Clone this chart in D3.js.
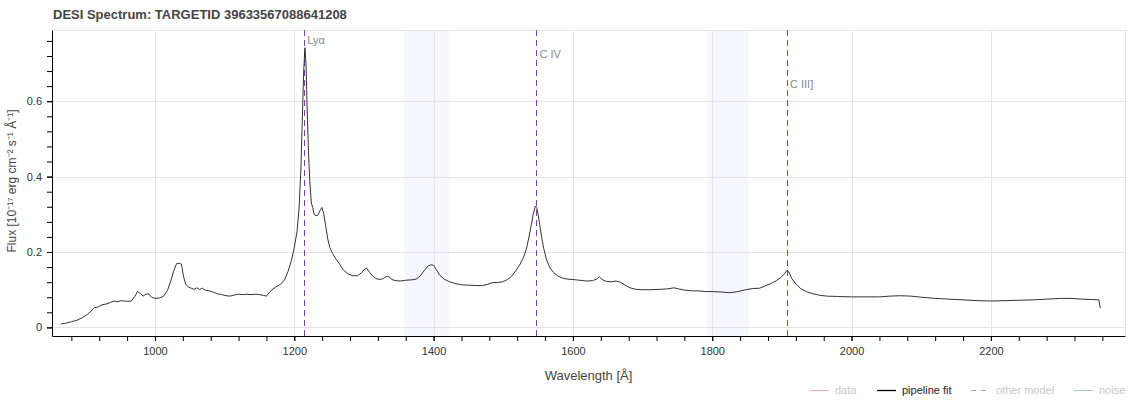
<!DOCTYPE html>
<html>
<head>
<meta charset="utf-8">
<script src="https://cdn.jsdelivr.net/npm/d3@7"></script>
<style>
  body { margin: 0; background: #fff; }
  svg { display: block; font-family: "Liberation Sans", Arial, sans-serif; }
</style>
</head>
<body>
<svg id="chart" width="1130" height="400"></svg>
<script>
// ---- Data ----
const wavelength = [865,872,880,888,895,902,908,913,918,924,930,936,941,946,951,956,961,966,971,975,979,983,987,991,995,1000,1006,1012,1018,1023,1027,1031,1035,1038,1041,1044,1048,1052,1056,1060,1064,1068,1072,1078,1084,1090,1096,1102,1108,1114,1120,1126,1132,1138,1144,1150,1156,1160,1164,1168,1174,1180,1186,1191,1196,1200,1204,1207,1209.5,1211.5,1213.5,1215.3,1216.8,1218.5,1220.5,1222.5,1224.5,1226.5,1228.5,1231,1234,1237,1239.5,1242,1245,1248,1251,1255,1260,1265,1270,1277,1284,1291,1297,1301,1304,1308,1312,1317,1322,1327,1332,1336,1340,1346,1352,1360,1368,1375,1381,1387,1392,1396,1400,1404,1409,1415,1423,1432,1440,1450,1460,1470,1477,1485,1492,1499,1506,1512,1518,1524,1529,1533,1537,1540,1543,1546,1548,1550,1552.5,1555,1558,1562,1567,1572,1578,1585,1592,1600,1610,1620,1628,1634,1638,1642,1648,1655,1662,1668,1675,1682,1690,1700,1712,1725,1735,1745,1752,1760,1770,1780,1790,1800,1812,1825,1837,1848,1858,1868,1876,1884,1892,1899,1904,1907,1910,1914,1920,1927,1935,1945,1955,1965,1980,2000,2020,2040,2055,2070,2085,2100,2120,2140,2160,2180,2200,2220,2240,2260,2280,2300,2315,2330,2345,2355,2357];
const fluxFit = [0.009,0.011,0.015,0.019,0.025,0.033,0.043,0.052,0.054,0.060,0.062,0.066,0.070,0.068,0.071,0.070,0.069,0.070,0.082,0.095,0.090,0.083,0.088,0.089,0.080,0.077,0.078,0.082,0.098,0.125,0.150,0.169,0.170,0.168,0.135,0.115,0.107,0.104,0.101,0.105,0.100,0.104,0.099,0.097,0.093,0.089,0.087,0.084,0.083,0.086,0.088,0.087,0.088,0.087,0.088,0.087,0.085,0.083,0.092,0.100,0.108,0.114,0.126,0.148,0.178,0.212,0.255,0.320,0.420,0.550,0.680,0.742,0.700,0.580,0.460,0.380,0.330,0.318,0.300,0.296,0.298,0.310,0.318,0.305,0.270,0.235,0.212,0.196,0.181,0.168,0.153,0.142,0.137,0.137,0.146,0.155,0.157,0.146,0.137,0.130,0.127,0.129,0.135,0.134,0.127,0.124,0.123,0.125,0.126,0.128,0.137,0.152,0.163,0.166,0.165,0.153,0.138,0.128,0.121,0.116,0.113,0.112,0.111,0.111,0.114,0.119,0.119,0.121,0.127,0.136,0.150,0.167,0.186,0.207,0.240,0.270,0.300,0.322,0.318,0.300,0.270,0.240,0.210,0.180,0.158,0.146,0.137,0.131,0.128,0.127,0.125,0.123,0.124,0.128,0.134,0.127,0.122,0.121,0.123,0.120,0.112,0.105,0.101,0.100,0.100,0.101,0.102,0.105,0.102,0.099,0.097,0.097,0.095,0.095,0.094,0.092,0.095,0.100,0.103,0.104,0.110,0.116,0.124,0.133,0.143,0.151,0.147,0.130,0.115,0.103,0.095,0.089,0.085,0.083,0.082,0.081,0.081,0.081,0.083,0.084,0.083,0.080,0.077,0.075,0.073,0.071,0.070,0.071,0.072,0.073,0.075,0.077,0.077,0.075,0.074,0.073,0.051];

const lineNames = ["Lyα", "C IV", "C III]"];
const lineWaves = [1215.67, 1549.0, 1908.7];
const lineLabelY = [0.762, 0.724, 0.644];

const bandStarts = [1358, 1793];
const bandEnds = [1423, 1852];

const xTicks = [1000, 1200, 1400, 1600, 1800, 2000, 2200];
const yTicks = [0, 0.2, 0.4, 0.6];

const legendNames = ["data", "pipeline fit", "other model", "noise"];
const legendColors = ["#e8a8b8", "#000000", "#aaaaaa", "#a8c0dc"];
const legendText = ["#c8c8c8", "#222222", "#c8c8c8", "#c8c8c8"];

// ---- Layout ----
const svg = d3.select("#chart");
const m = { left: 52, right: 1125, top: 30, bottom: 336 };

const x = d3.scaleLinear().domain([852.2, 2392.5]).range([m.left, m.right]);
const y = d3.scaleLinear().domain([-0.0228, 0.7889]).range([m.bottom, m.top]);
const px = (v) => Math.round(v) + 0.5;

// bands
svg.append("g").selectAll("rect").data(bandStarts).join("rect")
  .attr("x", (d) => x(d))
  .attr("width", (d, i) => x(bandEnds[i]) - x(d))
  .attr("y", m.top).attr("height", m.bottom - m.top)
  .attr("fill", "#f6f6ff");

// grid
const grid = svg.append("g").attr("stroke", "#e4e4e4").attr("stroke-width", 1);
grid.selectAll(".gx").data(xTicks).join("line")
  .attr("x1", (d) => px(x(d))).attr("x2", (d) => px(x(d)))
  .attr("y1", m.top).attr("y2", m.bottom);
grid.selectAll(".gy").data(yTicks).join("line")
  .attr("y1", (d) => px(y(d))).attr("y2", (d) => px(y(d)))
  .attr("x1", m.left).attr("x2", m.right);
grid.append("line").attr("x1", m.left).attr("x2", m.right).attr("y1", m.top + 0.5).attr("y2", m.top + 0.5);
grid.append("line").attr("x1", m.right + 0.5).attr("x2", m.right + 0.5).attr("y1", m.top).attr("y2", m.bottom);

// emission line markers
const markers = svg.append("g");
markers.selectAll("line").data(lineWaves).join("line")
  .attr("x1", (d) => px(x(d)) - 1).attr("x2", (d) => px(x(d)) - 1)
  .attr("y1", m.top).attr("y2", m.bottom)
  .attr("stroke", "#7e3bc8").attr("stroke-width", 1).attr("stroke-dasharray", "6,4");
markers.selectAll("text").data(lineWaves).join("text")
  .attr("x", (d) => x(d) + 2)
  .attr("y", (d, i) => y(lineLabelY[i]))
  .attr("dy", "0.35em")
  .attr("font-size", 11).attr("fill", "#888")
  .text((d, i) => lineNames[i]);

// spectrum
const pts = wavelength.map((w, i) => [w, fluxFit[i]]);
svg.append("path").datum(pts)
  .attr("fill", "none").attr("stroke", "#333").attr("stroke-width", 1)
  .attr("stroke-linejoin", "round")
  .attr("d", d3.line().x((d) => x(d[0])).y((d) => y(d[1])));

// axes
const xMinor = d3.range(880, 2392, 40);
const yMinor = d3.range(0, 0.78, 0.04);
const gx = svg.append("g").attr("transform", `translate(0,${m.bottom})`)
  .call(d3.axisBottom(x).tickValues(xMinor).tickSize(5).tickFormat(""));
gx.select(".domain").remove();
const gx2 = svg.append("g").attr("transform", `translate(0,${m.bottom})`)
  .call(d3.axisBottom(x).tickValues(xTicks).tickSize(5).tickSizeOuter(0).tickPadding(6).tickFormat(d3.format("d")));
gx2.selectAll("text").attr("font-size", 11).attr("fill", "#333");

const gy = svg.append("g").attr("transform", `translate(${m.left},0)`)
  .call(d3.axisLeft(y).tickValues(yMinor).tickSize(5).tickFormat(""));
gy.select(".domain").remove();
const gy2 = svg.append("g").attr("transform", `translate(${m.left},0)`)
  .call(d3.axisLeft(y).tickValues(yTicks).tickSize(5).tickSizeOuter(0).tickPadding(5).tickFormat((d) => d === 0 ? "0" : d3.format(".1f")(d)));
gy2.selectAll("text").attr("font-size", 11).attr("fill", "#333");
svg.selectAll(".domain").attr("stroke", "#000");
svg.selectAll(".tick line").attr("stroke", "#000");

// titles
svg.append("text").attr("x", 53).attr("y", 19)
  .attr("font-size", 13).attr("font-weight", "bold").attr("fill", "#444")
  .text("DESI Spectrum: TARGETID 39633567088641208");

svg.append("text").attr("x", (m.left + m.right) / 2).attr("y", 375)
  .attr("text-anchor", "middle").attr("dy", "0.35em")
  .attr("font-size", 13).attr("fill", "#444")
  .text("Wavelength [Å]");

svg.append("text")
  .attr("transform", `translate(12,${(m.top + m.bottom) / 2 - 2}) rotate(-90)`)
  .attr("text-anchor", "middle").attr("dy", "0.35em")
  .attr("font-size", 12).attr("fill", "#444")
  .text("Flux [10⁻¹⁷ erg cm⁻² s⁻¹ Å⁻¹]");

// legend
const legX = [810, 877, 971, 1074];
const leg = svg.append("g");
legendNames.forEach((n, i) => {
  leg.append("line").attr("x1", legX[i]).attr("x2", legX[i] + 19)
    .attr("y1", 390.5).attr("y2", 390.5)
    .attr("stroke", legendColors[i]).attr("stroke-width", i === 1 ? 1.3 : 1)
    .attr("stroke-dasharray", i === 2 ? "5,5" : null);
  leg.append("text").attr("x", legX[i] + 25).attr("y", 390).attr("dy", "0.35em")
    .attr("font-size", 11).attr("fill", legendText[i]).text(n);
});
</script>
</body>
</html>
